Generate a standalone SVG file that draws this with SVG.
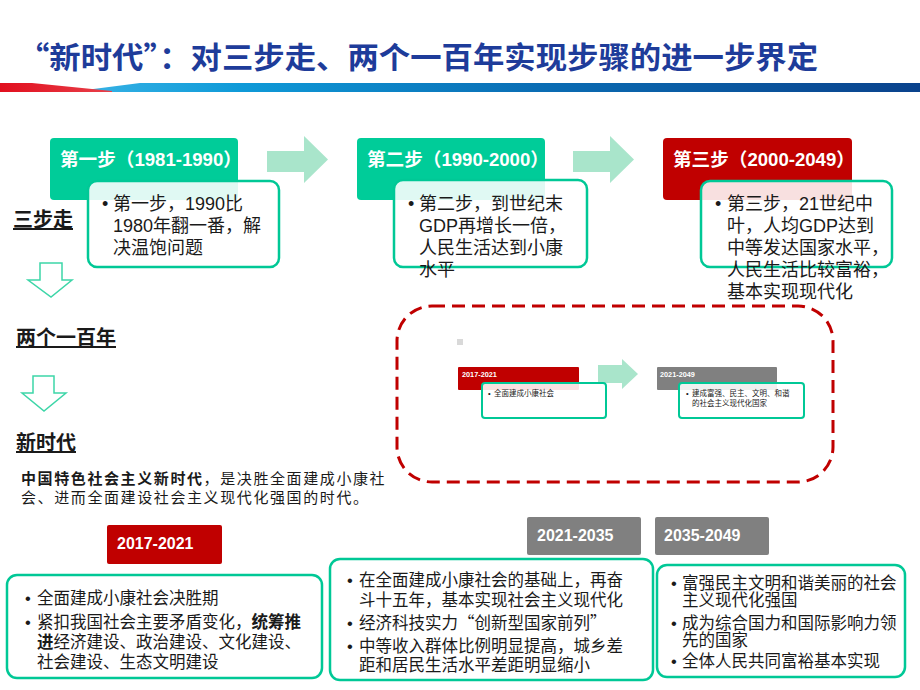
<svg xmlns="http://www.w3.org/2000/svg" width="920" height="690" viewBox="0 0 920 690">
<defs>
<linearGradient id="band" x1="0" y1="0" x2="1" y2="0">
<stop offset="0" stop-color="#3ab4e6"/>
<stop offset="0.2" stop-color="#0f9ad8"/>
<stop offset="0.55" stop-color="#0a6db4"/>
<stop offset="1" stop-color="#0a428c"/>
</linearGradient>
<linearGradient id="red" x1="0" y1="0" x2="1" y2="0">
<stop offset="0" stop-color="#e10f1e"/>
<stop offset="1" stop-color="#e8404a"/>
</linearGradient>
<style>
.t{font-family:"Liberation Sans","Noto Sans CJK SC",sans-serif;}
.cjk{font-family:"Noto Sans CJK SC",sans-serif;}
.title{font-family:"Noto Sans CJK SC",sans-serif;font-weight:bold;font-size:30px;fill:#1e3c9a;}
.hd{font-size:18.6px;font-weight:bold;fill:#fff;}
.body{font-size:18px;fill:#1a1a1a;}
.lbl{font-size:20px;font-weight:bold;fill:#1a1a1a;text-decoration:underline;}
.para{font-size:15px;fill:#1a1a1a;letter-spacing:1.6px;}
.bt{font-size:16.5px;fill:#1a1a1a;}
.yr{font-size:16px;font-weight:bold;fill:#fff;}
.sm{font-size:7.5px;fill:#1a1a1a;}
.smh{font-size:7.3px;font-weight:bold;fill:#fff;}
.b{font-weight:bold;}
.grn{fill:#00cc99;}
.redf{fill:#c00000;}
.gry{fill:#808080;}
.box{fill:#fff;fill-opacity:0.88;stroke:#00c896;stroke-width:2.5;}
.arr{fill:#a9e5cb;}
.darr{fill:#fff;stroke:#3dd6a8;stroke-width:1.5;}
</style>
</defs>
<rect width="920" height="690" fill="#fff"/>

<g id="header">
<text class="title" x="18" y="68" textLength="800" lengthAdjust="spacingAndGlyphs">“新时代”：对三步走、两个一百年实现步骤的进一步界定</text>
<polygon points="70,92 140,83 920,83 920,92" fill="url(#band)"/>
<polygon points="0,83 32,83 112,91 112,92 0,92" fill="url(#red)"/>
</g>

<g id="connectors">
<polygon class="arr" points="267,151 304,151 304,136 328,159.5 304,183 304,172 267,172"/>
<polygon class="arr" points="573,151 610,151 610,136 634,159.5 610,183 610,172 573,172"/>
<polygon class="arr" points="598,365 622,365 622,359 638,374 622,389 622,383 598,383"/>
<polygon class="darr" points="40,263 62,263 62,280 72,280 51,297 28,280 40,280"/>
<polygon class="darr" points="33,376 54,376 54,393 66,393 44,411 22,393 33,393"/>
</g>

<g id="step1" class="t">
<rect class="grn" x="50" y="138" width="188" height="62" rx="4"/>
<text class="hd" x="60" y="166">第一步（1981-1990）</text>
<rect class="box" x="88" y="181" width="191" height="86" rx="9"/>
<text class="body" x="102" y="210">•</text>
<text class="body" x="113" y="210">第一步，1990比</text>
<text class="body" x="113" y="232">1980年翻一番，解</text>
<text class="body" x="113" y="254">决温饱问题</text>
</g>

<g id="step2" class="t">
<rect class="grn" x="357" y="138" width="188" height="62" rx="4"/>
<text class="hd" x="367" y="166">第二步（1990-2000）</text>
<rect class="box" x="394" y="180" width="193" height="87" rx="9"/>
<text class="body" x="408" y="210">•</text>
<text class="body" x="419" y="210">第二步，到世纪末</text>
<text class="body" x="419" y="232">GDP再增长一倍，</text>
<text class="body" x="419" y="254">人民生活达到小康</text>
<text class="body" x="419" y="276">水平</text>
</g>

<g id="step3" class="t">
<rect class="redf" x="663" y="138" width="189" height="62" rx="4"/>
<text class="hd" x="673" y="166">第三步（2000-2049）</text>
<rect class="box" x="701" y="181" width="191" height="86" rx="9"/>
<text class="body" x="715" y="210">•</text>
<text class="body" x="727" y="210">第三步，21世纪中</text>
<text class="body" x="727" y="232">叶，人均GDP达到</text>
<text class="body" x="727" y="254">中等发达国家水平，</text>
<text class="body" x="727" y="276">人民生活比较富裕，</text>
<text class="body" x="727" y="298">基本实现现代化</text>
</g>

<g id="labels" class="t">
<text class="lbl" x="13" y="227">三步走</text>
<text class="lbl" x="16" y="345">两个一百年</text>
<text class="lbl" x="16" y="450">新时代</text>
<text class="para" x="21" y="484"><tspan class="b">中国特色社会主义新时代</tspan>，是决胜全面建成小康社</text>
<text class="para" x="21" y="503">会、进而全面建设社会主义现代化强国的时代。</text>
</g>

<g id="inset" class="t">
<rect x="397" y="306" width="436" height="176" rx="35" fill="none" stroke="#c00000" stroke-width="3" stroke-dasharray="13 7"/>
<rect x="457" y="339" width="6" height="6" fill="#d9d9d9"/>
<rect class="redf" x="458" y="367" width="121" height="23" rx="1"/>
<text class="smh" x="462" y="377">2017-2021</text>
<rect x="482" y="383" width="124" height="35" rx="3" fill="#fff" fill-opacity="0.88" stroke="#00c896" stroke-width="2"/>
<text class="sm" x="488" y="396">•</text>
<text class="sm" x="494" y="396">全面建成小康社会</text>
<rect class="gry" x="657" y="367" width="120" height="23" rx="1"/>
<text class="smh" x="660" y="377">2021-2049</text>
<rect x="679" y="383" width="125" height="35" rx="3" fill="#fff" fill-opacity="0.88" stroke="#00c896" stroke-width="2"/>
<text class="sm" x="686" y="396">•</text>
<text class="sm" x="692" y="396">建成富强、民主、文明、和谐</text>
<text class="sm" x="692" y="406">的社会主义现代化国家</text>
</g>

<g id="phase1" class="t">
<rect class="redf" x="107" y="525" width="115" height="39" rx="2"/>
<text class="yr" x="117" y="549">2017-2021</text>
<rect class="box" x="7" y="575" width="315" height="103" rx="10"/>
<text class="bt" x="25" y="604">•</text>
<text class="bt" x="37" y="604">全面建成小康社会决胜期</text>
<text class="bt" x="25" y="628">•</text>
<text class="bt" x="37" y="628">紧扣我国社会主要矛盾变化，<tspan class="b">统筹推</tspan></text>
<text class="bt" x="37" y="648"><tspan class="b">进</tspan>经济建设、政治建设、文化建设、</text>
<text class="bt" x="37" y="668">社会建设、生态文明建设</text>
</g>

<g id="phase2" class="t">
<rect class="gry" x="527" y="517" width="114" height="38" rx="2"/>
<text class="yr" x="537" y="541">2021-2035</text>
<rect class="box" x="330" y="559" width="323" height="121" rx="10"/>
<text class="bt" x="347" y="586">•</text>
<text class="bt" x="359" y="586">在全面建成小康社会的基础上，再奋</text>
<text class="bt" x="359" y="606">斗十五年，基本实现社会主义现代化</text>
<text class="bt" x="347" y="629">•</text>
<text class="bt cjk" x="359" y="629">经济科技实力“创新型国家前列”</text>
<text class="bt" x="347" y="652">•</text>
<text class="bt" x="359" y="652">中等收入群体比例明显提高，城乡差</text>
<text class="bt" x="359" y="671">距和居民生活水平差距明显缩小</text>
</g>

<g id="phase3" class="t">
<rect class="gry" x="655" y="517" width="114" height="38" rx="2"/>
<text class="yr" x="664" y="541">2035-2049</text>
<rect class="box" x="657" y="565" width="248" height="112" rx="10"/>
<text class="bt" x="671" y="589">•</text>
<text class="bt" x="682" y="589">富强民主文明和谐美丽的社会</text>
<text class="bt" x="682" y="606">主义现代化强国</text>
<text class="bt" x="671" y="629">•</text>
<text class="bt" x="682" y="629">成为综合国力和国际影响力领</text>
<text class="bt" x="682" y="646">先的国家</text>
<text class="bt" x="671" y="667">•</text>
<text class="bt" x="682" y="667">全体人民共同富裕基本实现</text>
</g>
</svg>
